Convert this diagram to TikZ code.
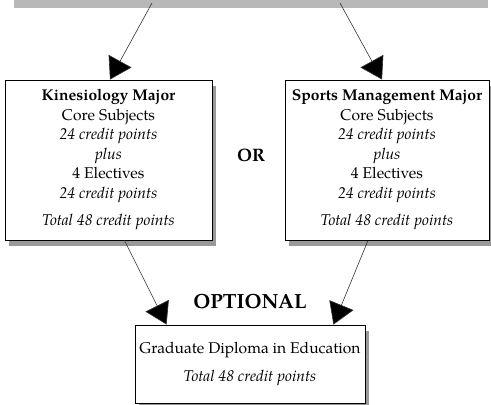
\documentclass[tikz,border=0pt]{standalone}
\usepackage{fontspec}
\setmainfont{texgyrepagella}[
  Extension=.otf,
  UprightFont=*-regular,
  BoldFont=*-bold,
  ItalicFont=*-italic,
  BoldItalicFont=*-bolditalic]
\usetikzlibrary{arrows.meta,shadows,calc}

\tikzset{
  course/.style={draw=black, line width=0.9pt, fill=white, align=center,
    inner sep=0pt,
    drop shadow={shadow xshift=4pt, shadow yshift=-6pt, fill=black!40, opacity=1}},
  link/.style={draw=black!80, line width=0.6pt,
    -{Triangle[length=21pt,width=26pt,fill=black]}},
  bodytext/.style={font=\fontsize{15.6}{19.5}\selectfont},
  word/.style={font=\fontsize{18}{20}\selectfont\bfseries}
}

\begin{document}
\begin{tikzpicture}[x=1pt,y=-1pt]
\useasboundingbox (0,0) rectangle (491,405);

% shaded lower edge of the entry box above
\fill[black!28] (14,0) rectangle (488,8);
\coordinate (srcL) at (152,3);
\coordinate (srcR) at (340,3);

% the two majors
\node[course, bodytext, minimum width=207pt, minimum height=160pt] (kin) at (108.5,160)
  {\textbf{Kinesiology Major}\\
   Core Subjects\\
   \textit{24 credit points}\\
   \textit{plus}\\
   4 Electives\\
   \textit{24 credit points}\\[8pt]
   \textit{Total 48 credit points}};

\node[course, bodytext, minimum width=204pt, minimum height=160pt] (sms) at (387,160)
  {\textbf{Sports Management Major}\\
   Core Subjects\\
   \textit{24 credit points}\\
   \textit{plus}\\
   4 Electives\\
   \textit{24 credit points}\\[8pt]
   \textit{Total 48 credit points}};

\node[word] (or) at (251,155) {OR};

% optional diploma
\node[course, bodytext, minimum width=230pt, minimum height=78pt] (gde) at (250,364)
  {Graduate Diploma in Education\\[8pt]
   \textit{Total 48 credit points}};

\node[word, font=\fontsize{20.5}{22}\selectfont\bfseries] (opt) at (250,302) {OPTIONAL};

% connectors
\draw[link] (srcL) -- ($(kin.north)+(1.5,0)$);
\draw[link] (srcR) -- ($(sms.north)+(-5,0)$);
\draw[link] ($(kin.south)+(16,0)$) -- ($(gde.north west)+(32,0)$);
\draw[link] ($(sms.south)+(-19,0)$) -- ($(gde.north east)+(-32,0)$);
\end{tikzpicture}
\end{document}
